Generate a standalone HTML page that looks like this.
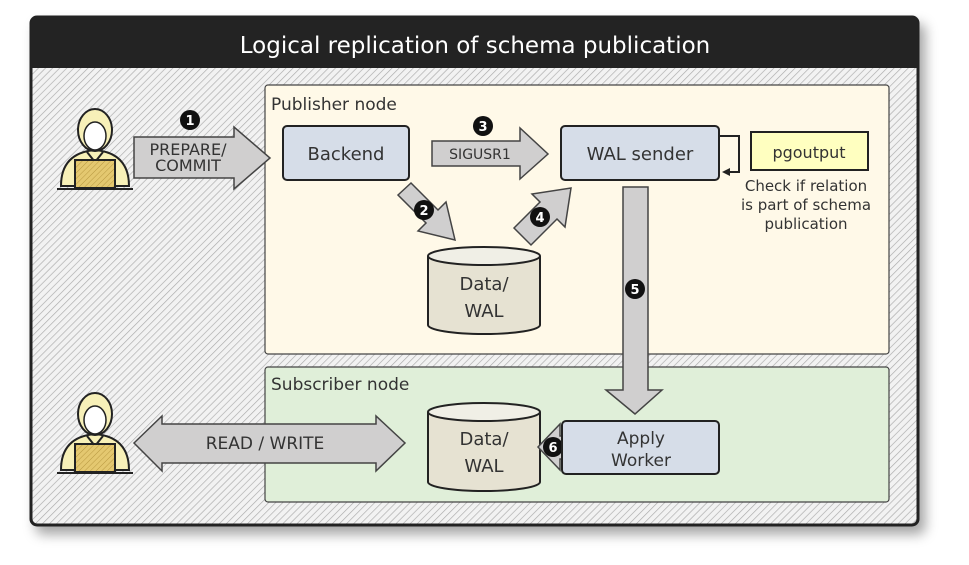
<!DOCTYPE html>
<html><head><meta charset="utf-8"><style>
body{margin:0;background:#fff;}
svg text{font-family:"DejaVu Sans","Liberation Sans",sans-serif;fill:#333;}
</style></head><body>
<svg width="969" height="560" viewBox="0 0 969 560" xmlns="http://www.w3.org/2000/svg">
<defs>
<pattern id="h" width="5" height="5" patternUnits="userSpaceOnUse" patternTransform="rotate(45)">
<rect width="5" height="5" fill="#f2f2f2"/><line x1="0" y1="0" x2="0" y2="5" stroke="#aaa" stroke-width="1.3"/></pattern>
<pattern id="h2" width="4" height="4" patternUnits="userSpaceOnUse" patternTransform="rotate(45)">
<rect width="4" height="4" fill="#e4c870"/><line x1="0" y1="0" x2="0" y2="4" stroke="#b89840" stroke-width="1"/></pattern>
<filter id="sh" x="-5%" y="-5%" width="115%" height="120%"><feDropShadow dx="6" dy="8" stdDeviation="6" flood-color="#000" flood-opacity="0.35"/></filter>
<g id="person">
<path d="M-34,38 Q-34,5 0,2 Q34,5 34,38 Z" fill="#f7f0b8" stroke="#222" stroke-width="2"/>
<path d="M-8,4 L0,14 L8,4" fill="none" stroke="#222" stroke-width="2"/>
<ellipse cx="0" cy="-18" rx="17" ry="21" fill="#f7f0b8" stroke="#222" stroke-width="2"/>
<ellipse cx="0" cy="-12" rx="11" ry="14" fill="#fff" stroke="#222" stroke-width="1.5"/>
<rect x="-20" y="12" width="40" height="28" fill="url(#h2)" stroke="#222" stroke-width="2"/>
<line x1="-38" y1="41" x2="38" y2="41" stroke="#222" stroke-width="2"/>
</g>
</defs>
<rect x="31" y="17" width="887" height="508" rx="6" fill="url(#h)" stroke="#222" stroke-width="3" filter="url(#sh)"/>
<path d="M31,68 V23 Q31,17 37,17 H912 Q918,17 918,23 V68 Z" fill="#232323"/>
<text x="475" y="53" text-anchor="middle" font-size="23" style="fill:#fff">Logical replication of schema publication</text>

<rect x="265" y="85" width="624" height="269" rx="3" fill="#fff9e8" stroke="#444" stroke-width="1.2"/>
<text x="271" y="110" font-size="17">Publisher node</text>
<rect x="265" y="367" width="624" height="135" rx="3" fill="#e0efd9" stroke="#444" stroke-width="1.2"/>
<text x="271" y="390" font-size="17">Subscriber node</text>

<use href="#person" x="95" y="148"/>
<use href="#person" x="95" y="432"/>

<path d="M134,137 H234 V127 L270,158 L234,189 V178 H134 Z" fill="#d0cfcf" stroke="#444" stroke-width="1.5"/>
<text x="188" y="155" text-anchor="middle" font-size="16">PREPARE/</text>
<text x="188" y="171" text-anchor="middle" font-size="16">COMMIT</text>
<circle cx="190" cy="120" r="10" fill="#111"/><text x="190" y="125" text-anchor="middle" font-size="13" font-weight="bold" style="fill:#fff">1</text>

<rect x="283" y="126" width="126" height="54" rx="4" fill="#d6dde8" stroke="#222" stroke-width="2"/>
<text x="346" y="160" text-anchor="middle" font-size="18">Backend</text>

<path d="M432,141 H520 V128 L548,154 L520,179 V166 H432 Z" fill="#d0cfcf" stroke="#444" stroke-width="1.5"/>
<text x="480" y="159" text-anchor="middle" font-size="14">SIGUSR1</text>
<circle cx="483" cy="126" r="10" fill="#111"/><text x="483" y="131" text-anchor="middle" font-size="13" font-weight="bold" style="fill:#fff">3</text>

<rect x="561" y="126" width="158" height="54" rx="4" fill="#d6dde8" stroke="#222" stroke-width="2"/>
<text x="640" y="160" text-anchor="middle" font-size="18">WAL sender</text>
<path d="M719,136 H739 V172 H724" fill="none" stroke="#222" stroke-width="2"/>
<path d="M722,172 L730,168 L730,176 Z" fill="#222"/>
<rect x="751" y="132" width="117" height="38" fill="#ffffc0" stroke="#222" stroke-width="2"/>
<text x="809" y="158" text-anchor="middle" font-size="16">pgoutput</text>
<text x="806" y="191" text-anchor="middle" font-size="15">Check if relation</text>
<text x="806" y="210" text-anchor="middle" font-size="15">is part of schema</text>
<text x="806" y="229" text-anchor="middle" font-size="15">publication</text>

<path d="M398,195 L411,183 L438,210 L446,202 L455,240 L418,231 L426,223 Z" fill="#d0cfcf" stroke="#444" stroke-width="1.5"/>
<circle cx="424" cy="210" r="10" fill="#111"/><text x="424" y="215" text-anchor="middle" font-size="13" font-weight="bold" style="fill:#fff">2</text>
<path d="M514,228 L540,202 L532,194 L571,188 L565,227 L557,219 L531,245 Z" fill="#d0cfcf" stroke="#444" stroke-width="1.5"/>
<circle cx="540" cy="217" r="10" fill="#111"/><text x="540" y="222" text-anchor="middle" font-size="13" font-weight="bold" style="fill:#fff">4</text>

<path d="M428,256 V325 A56,9 0 0 0 540,325 V256" fill="#e6e2d2" stroke="#222" stroke-width="2"/>
<ellipse cx="484" cy="256" rx="56" ry="9" fill="#f0efe6" stroke="#222" stroke-width="2"/>
<text x="484" y="290" text-anchor="middle" font-size="18">Data/</text>
<text x="484" y="317" text-anchor="middle" font-size="18">WAL</text>

<path d="M623,187 H648 V390 H662 L635,414 L606,390 H623 Z" fill="#d0cfcf" stroke="#444" stroke-width="1.5"/>
<circle cx="635" cy="289" r="10" fill="#111"/><text x="635" y="294" text-anchor="middle" font-size="13" font-weight="bold" style="fill:#fff">5</text>

<path d="M134,443 L162,416 V424 H376 V416 L405,443 L376,471 V463 H162 V471 Z" fill="#d0cfcf" stroke="#444" stroke-width="1.5"/>
<text x="265" y="449" text-anchor="middle" font-size="17">READ / WRITE</text>

<path d="M428,412 V482 A56,9 0 0 0 540,482 V412" fill="#e6e2d2" stroke="#222" stroke-width="2"/>
<ellipse cx="484" cy="412" rx="56" ry="9" fill="#f0efe6" stroke="#222" stroke-width="2"/>
<text x="484" y="445" text-anchor="middle" font-size="18">Data/</text>
<text x="484" y="472" text-anchor="middle" font-size="18">WAL</text>

<path d="M566,436 H560 V424 L538,447 L560,470 V459 H566 Z" fill="#d0cfcf" stroke="#444" stroke-width="1.5"/>
<circle cx="553" cy="447" r="10" fill="#111"/><text x="553" y="452" text-anchor="middle" font-size="13" font-weight="bold" style="fill:#fff">6</text>

<rect x="562" y="421" width="157" height="53" rx="4" fill="#d6dde8" stroke="#222" stroke-width="2"/>
<text x="641" y="444" text-anchor="middle" font-size="17">Apply</text>
<text x="641" y="466" text-anchor="middle" font-size="17">Worker</text>
</svg>
</body></html>
